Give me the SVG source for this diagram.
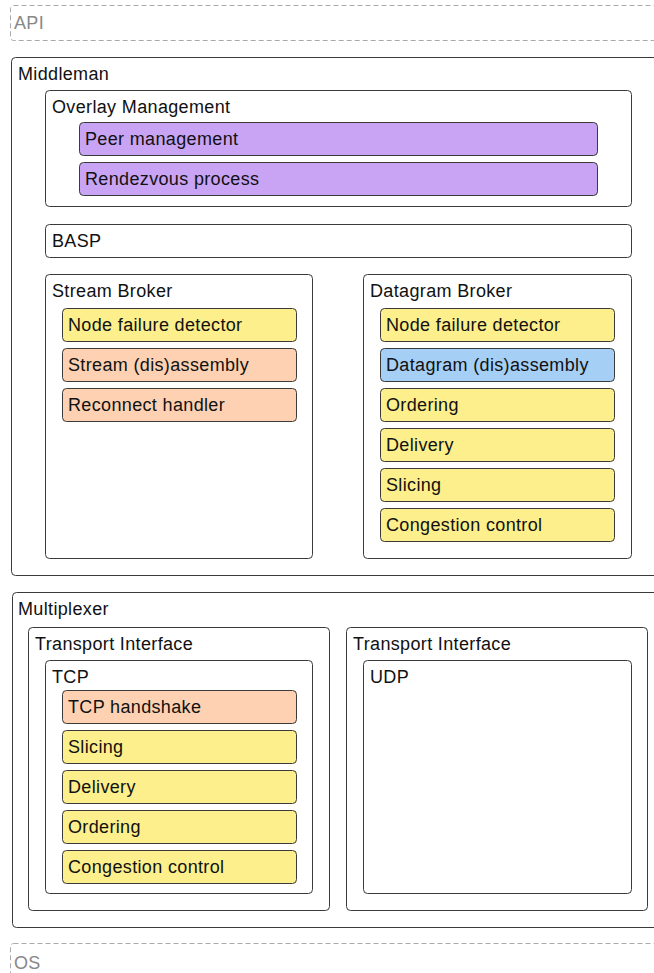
<svg xmlns="http://www.w3.org/2000/svg" width="654" height="973" viewBox="0 0 654 973">
  <style>
    text { font-family: "Liberation Sans", Arial, sans-serif; font-size: 18px; letter-spacing: 0.35px; fill: #111; }
    .layer { fill: none; stroke: #aaa; stroke-width: 1; stroke-dasharray: 5 3; }
    .layer-label { fill: #888; }
    .box { fill: #fff; stroke: #3a3a3a; stroke-width: 1; }
    .item { stroke: #3a3a3a; stroke-width: 1; }
    .purple { fill: #c9a4f5; }
    .yellow { fill: #fcef8c; }
    .peach { fill: #fdd1b2; }
    .blue { fill: #a6cff6; }
  </style>

  <!-- API layer -->
  <g id="api">
    <rect class="layer" x="10.5" y="5.5" width="700" height="35" rx="3"/>
    <text class="layer-label" x="14" y="29">API</text>
  </g>

  <!-- Middleman -->
  <g id="middleman">
    <rect class="box" x="11.5" y="57.5" width="700" height="518" rx="4"/>
    <text x="18" y="80">Middleman</text>
  </g>

  <g id="overlay-management">
    <rect class="box" x="45.5" y="90.5" width="586" height="116" rx="4"/>
    <text x="52" y="113">Overlay Management</text>
  </g>
  <g id="peer-management">
    <rect class="item purple" x="79.5" y="122.5" width="518" height="33" rx="4"/>
    <text x="85" y="145">Peer management</text>
  </g>
  <g id="rendezvous-process">
    <rect class="item purple" x="79.5" y="162.5" width="518" height="33" rx="4"/>
    <text x="85" y="185">Rendezvous process</text>
  </g>

  <g id="basp">
    <rect class="box" x="45.5" y="224.5" width="586" height="33" rx="4"/>
    <text x="52" y="247">BASP</text>
  </g>

  <!-- Stream Broker -->
  <g id="stream-broker">
    <rect class="box" x="45.5" y="274.5" width="267" height="284" rx="4"/>
    <text x="52" y="297">Stream Broker</text>
  </g>
  <g id="sb-node-failure-detector">
    <rect class="item yellow" x="62.5" y="308.5" width="234" height="33" rx="4"/>
    <text x="68" y="331">Node failure detector</text>
  </g>
  <g id="sb-stream-disassembly">
    <rect class="item peach" x="62.5" y="348.5" width="234" height="33" rx="4"/>
    <text x="68" y="371">Stream (dis)assembly</text>
  </g>
  <g id="sb-reconnect-handler">
    <rect class="item peach" x="62.5" y="388.5" width="234" height="33" rx="4"/>
    <text x="68" y="411">Reconnect handler</text>
  </g>

  <!-- Datagram Broker -->
  <g id="datagram-broker">
    <rect class="box" x="363.5" y="274.5" width="268" height="284" rx="4"/>
    <text x="370" y="297">Datagram Broker</text>
  </g>
  <g id="db-node-failure-detector">
    <rect class="item yellow" x="380.5" y="308.5" width="234" height="33" rx="4"/>
    <text x="386" y="331">Node failure detector</text>
  </g>
  <g id="db-datagram-disassembly">
    <rect class="item blue" x="380.5" y="348.5" width="234" height="33" rx="4"/>
    <text x="386" y="371">Datagram (dis)assembly</text>
  </g>
  <g id="db-ordering">
    <rect class="item yellow" x="380.5" y="388.5" width="234" height="33" rx="4"/>
    <text x="386" y="411">Ordering</text>
  </g>
  <g id="db-delivery">
    <rect class="item yellow" x="380.5" y="428.5" width="234" height="33" rx="4"/>
    <text x="386" y="451">Delivery</text>
  </g>
  <g id="db-slicing">
    <rect class="item yellow" x="380.5" y="468.5" width="234" height="33" rx="4"/>
    <text x="386" y="491">Slicing</text>
  </g>
  <g id="db-congestion-control">
    <rect class="item yellow" x="380.5" y="508.5" width="234" height="33" rx="4"/>
    <text x="386" y="531">Congestion control</text>
  </g>

  <!-- Multiplexer -->
  <g id="multiplexer">
    <rect class="box" x="12.5" y="592.5" width="700" height="335" rx="4"/>
    <text x="18" y="615">Multiplexer</text>
  </g>

  <g id="transport-interface-tcp">
    <rect class="box" x="28.5" y="627.5" width="301" height="283" rx="4"/>
    <text x="35" y="650">Transport Interface</text>
  </g>
  <g id="tcp">
    <rect class="box" x="45.5" y="660.5" width="267" height="233" rx="4"/>
    <text x="52" y="683">TCP</text>
  </g>
  <g id="tcp-handshake">
    <rect class="item peach" x="62.5" y="690.5" width="234" height="33" rx="4"/>
    <text x="68" y="713">TCP handshake</text>
  </g>
  <g id="tcp-slicing">
    <rect class="item yellow" x="62.5" y="730.5" width="234" height="33" rx="4"/>
    <text x="68" y="753">Slicing</text>
  </g>
  <g id="tcp-delivery">
    <rect class="item yellow" x="62.5" y="770.5" width="234" height="33" rx="4"/>
    <text x="68" y="793">Delivery</text>
  </g>
  <g id="tcp-ordering">
    <rect class="item yellow" x="62.5" y="810.5" width="234" height="33" rx="4"/>
    <text x="68" y="833">Ordering</text>
  </g>
  <g id="tcp-congestion-control">
    <rect class="item yellow" x="62.5" y="850.5" width="234" height="33" rx="4"/>
    <text x="68" y="873">Congestion control</text>
  </g>

  <g id="transport-interface-udp">
    <rect class="box" x="346.5" y="627.5" width="301" height="283" rx="4"/>
    <text x="353" y="650">Transport Interface</text>
  </g>
  <g id="udp">
    <rect class="box" x="363.5" y="660.5" width="268" height="233" rx="4"/>
    <text x="370" y="683">UDP</text>
  </g>

  <!-- OS layer -->
  <g id="os">
    <rect class="layer" x="10.5" y="943.5" width="700" height="60" rx="3"/>
    <text class="layer-label" x="14" y="969">OS</text>
  </g>

  <!-- no connectors in this diagram -->
  <g id="connectors"/>
</svg>
